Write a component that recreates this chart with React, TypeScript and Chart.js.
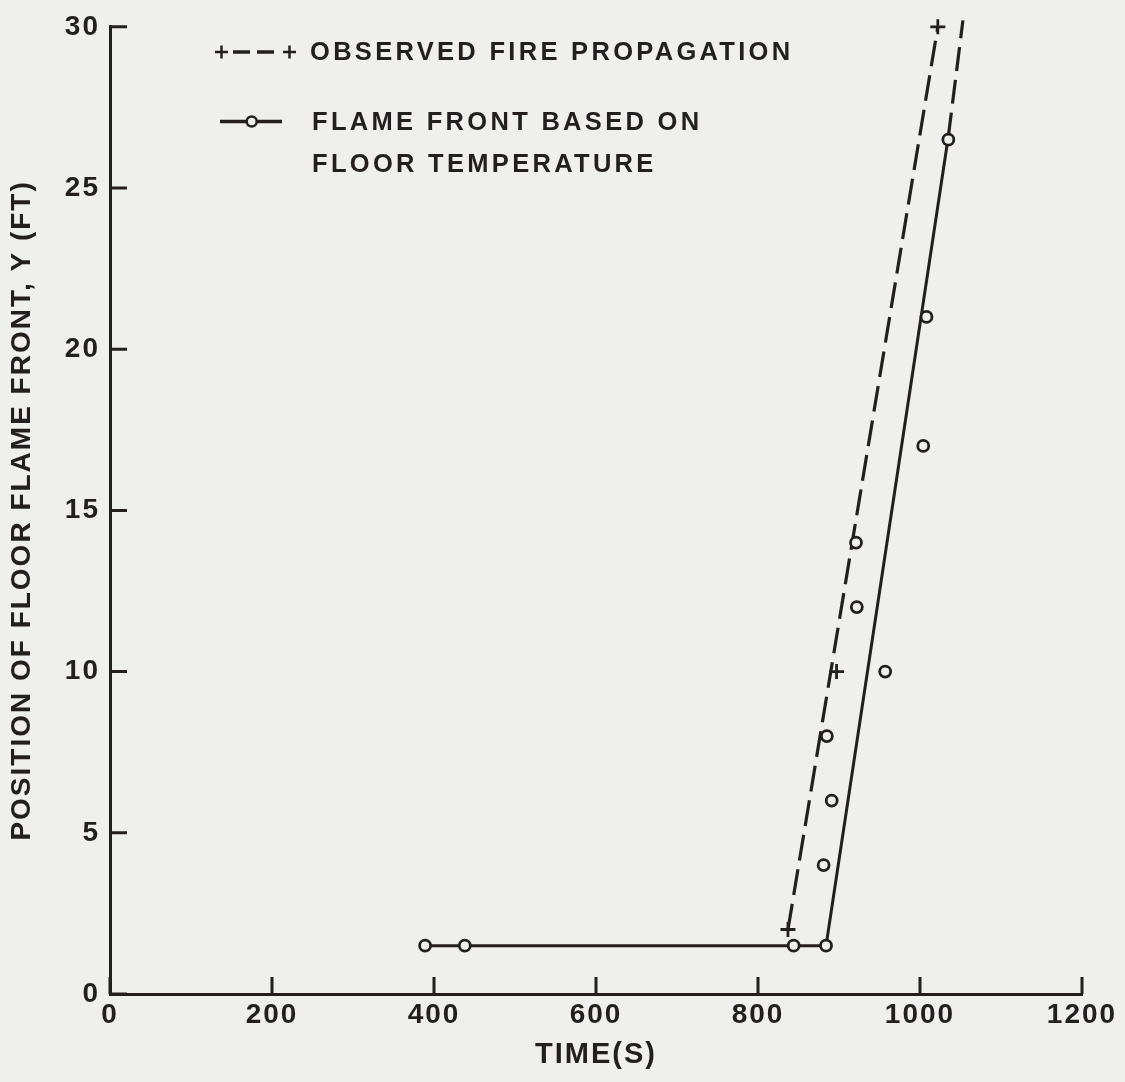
import React, { useEffect, useRef } from "react";
import { Chart, registerables } from "chart.js";

Chart.register(...registerables);

// ---- data ----
const xTickValues = [0, 200, 400, 600, 800, 1000, 1200];
const yTickValues = [0, 5, 10, 15, 20, 25, 30];

// flame front based on floor temperature (circles)
const flameTimes = [389, 438, 844, 884, 881, 885, 891, 921, 922, 957, 1004, 1008, 1035];
const flameValues = [1.5, 1.5, 1.5, 1.5, 4, 8, 6, 14, 12, 10, 17, 21, 26.5];
// solid line drawn for the flame front
const flameLineTimes = [389, 438, 844, 884, 1035];
const flameLineValues = [1.5, 1.5, 1.5, 1.5, 26.6];
// dashed extension of the flame front line
const flameExtTimes = [1035, 1053];
const flameExtValues = [26.6, 30.2];

// observed fire propagation (pluses)
const observedTimes = [837, 897, 1022];
const observedValues = [2, 10, 30];
// dashed line for observed propagation
const observedLineTimes = [837, 1022];
const observedLineValues = [2, 30];

const legendObserved = "OBSERVED FIRE PROPAGATION";
const legendFlame = ["FLAME FRONT BASED ON", "FLOOR TEMPERATURE"];
const xTitle = "TIME(S)";
const yTitle = "POSITION OF FLOOR FLAME FRONT, Y (FT)";

const INK = "#231f20";
const BG = "#efefed";
const FONT = '"Liberation Sans", Arial, Helvetica, sans-serif';

const pts = (xs: number[], ys: number[]) => xs.map((x, i) => ({ x, y: ys[i] }));

const spacingPlugin = {
  id: "spacing",
  beforeDraw(chart: any) {
    chart.ctx.letterSpacing = "2px";
  },
  beforeDatasetsDraw(chart: any) {
    chart.ctx.letterSpacing = "0px";
  },
};

const innerTicksPlugin = {
  id: "innerTicks",
  afterDatasetsDraw(chart: any) {
    const { ctx, chartArea, scales } = chart;
    ctx.save();
    ctx.setLineDash([]);
    ctx.strokeStyle = INK;
    ctx.lineWidth = 3;
    ctx.beginPath();
    xTickValues.forEach((v) => {
      const px = scales.x.getPixelForValue(v);
      ctx.moveTo(px, chartArea.bottom);
      ctx.lineTo(px, chartArea.bottom - 17);
    });
    yTickValues.forEach((v) => {
      const py = scales.y.getPixelForValue(v);
      ctx.moveTo(chartArea.left, py);
      ctx.lineTo(chartArea.left + 17, py);
    });
    ctx.stroke();
    ctx.restore();
  },
};

const legendPlugin = {
  id: "customLegend",
  afterDraw(chart: any) {
    const { ctx } = chart;
    ctx.save();
    ctx.setLineDash([]);
    ctx.strokeStyle = INK;
    ctx.fillStyle = INK;
    ctx.lineWidth = 2.5;
    // symbol 1: + - - +
    const y1 = 52;
    const plus = (cx: number, cy: number, h: number) => {
      ctx.beginPath();
      ctx.moveTo(cx - h, cy);
      ctx.lineTo(cx + h, cy);
      ctx.moveTo(cx, cy - h);
      ctx.lineTo(cx, cy + h);
      ctx.stroke();
    };
    plus(221.5, y1, 6.5);
    plus(289.5, y1, 6.5);
    ctx.lineWidth = 3.5;
    ctx.beginPath();
    ctx.moveTo(233, y1);
    ctx.lineTo(250, y1);
    ctx.moveTo(257, y1);
    ctx.lineTo(274, y1);
    ctx.stroke();
    // symbol 2: -o-
    const y2 = 121.5;
    ctx.lineWidth = 3.5;
    ctx.beginPath();
    ctx.moveTo(220, y2);
    ctx.lineTo(282, y2);
    ctx.stroke();
    ctx.beginPath();
    ctx.arc(251.7, y2, 5, 0, Math.PI * 2);
    ctx.fillStyle = BG;
    ctx.fill();
    ctx.lineWidth = 2.5;
    ctx.stroke();
    // text
    ctx.fillStyle = INK;
    ctx.font = `bold 25.5px ${FONT}`;
    ctx.letterSpacing = "3.3px";
    ctx.textAlign = "left";
    ctx.textBaseline = "alphabetic";
    ctx.fillText(legendObserved, 310, 60);
    ctx.fillText(legendFlame[0], 312, 130);
    ctx.fillText(legendFlame[1], 312, 171.5);
    ctx.restore();
  },
};

export default function App() {
  const canvasRef = useRef<HTMLCanvasElement | null>(null);

  useEffect(() => {
    const canvas = canvasRef.current;
    if (!canvas) return;
    const chart = new Chart(canvas, {
      type: "scatter",
      data: {
        datasets: [
          {
            label: "Flame front based on floor temperature",
            data: pts(flameTimes, flameValues),
            showLine: false,
            pointStyle: "circle",
            pointRadius: 5.5,
            pointBorderWidth: 2.8,
            pointBackgroundColor: BG,
            pointBorderColor: INK,
            clip: false,
          } as any,
          {
            label: "Observed fire propagation",
            data: pts(observedTimes, observedValues),
            showLine: false,
            pointStyle: "cross",
            pointRadius: 7.5,
            pointBorderWidth: 2.8,
            pointBorderColor: INK,
            clip: false,
          } as any,
          {
            label: "flame line",
            data: pts(flameLineTimes, flameLineValues),
            showLine: true,
            borderColor: INK,
            borderWidth: 3,
            pointRadius: 0,
            tension: 0,
            clip: false,
          } as any,
          {
            label: "flame extension",
            data: pts(flameExtTimes, flameExtValues),
            showLine: true,
            borderColor: INK,
            borderWidth: 3.2,
            borderDash: [24, 9],
            pointRadius: 0,
            tension: 0,
            clip: false,
          } as any,
          {
            label: "observed line",
            data: pts(observedLineTimes, observedLineValues),
            showLine: true,
            borderColor: INK,
            borderWidth: 3.2,
            borderDash: [26, 9],
            pointRadius: 0,
            tension: 0,
            clip: false,
          } as any,
        ],
      },
      options: {
        animation: false,
        responsive: false,
        devicePixelRatio: 1,
        layout: { padding: { top: 22, right: 43, left: 0, bottom: 0 } },
        plugins: {
          legend: { display: false },
          tooltip: { enabled: false },
        },
        scales: {
          x: {
            type: "linear",
            min: 0,
            max: 1200,
            afterBuildTicks: (s: any) => {
              s.ticks = xTickValues.map((v) => ({ value: v }));
            },
            afterFit: (s: any) => {
              s.height = 88;
            },
            grid: { display: false, drawTicks: false, tickLength: 0 },
            border: { display: true, color: INK, width: 3 },
            ticks: {
              color: INK,
              padding: 4,
              font: { family: FONT, size: 28, weight: "bold" },
              maxRotation: 0,
              autoSkip: false,
              callback: (v: any) => String(v),
            },
            title: {
              display: true,
              text: xTitle,
              color: INK,
              font: { family: FONT, size: 29, weight: "bold" },
              padding: { top: 0, bottom: 9.6 },
            },
          },
          y: {
            type: "linear",
            min: 0,
            max: 30,
            afterBuildTicks: (s: any) => {
              s.ticks = yTickValues.map((v) => ({ value: v }));
            },
            afterFit: (s: any) => {
              s.width = 110;
            },
            grid: { display: false, drawTicks: false, tickLength: 0 },
            border: { display: true, color: INK, width: 3 },
            ticks: {
              color: INK,
              padding: 10,
              font: { family: FONT, size: 28, weight: "bold" },
              autoSkip: false,
              callback: (v: any) => String(v),
            },
            title: {
              display: true,
              text: yTitle,
              color: INK,
              font: { family: FONT, size: 28, weight: "bold" },
              padding: { top: 5.2, bottom: 0 },
            },
          },
        },
      } as any,
      plugins: [spacingPlugin, innerTicksPlugin, legendPlugin],
    });
    return () => chart.destroy();
  }, []);

  return (
    <div
      style={{
        position: "absolute",
        left: 0,
        top: 0,
        width: 1125,
        height: 1082,
        background: BG,
        overflow: "hidden",
      }}
    >
      <canvas ref={canvasRef} width={1125} height={1082} style={{ width: 1125, height: 1082, display: "block" }} />
    </div>
  );
}
